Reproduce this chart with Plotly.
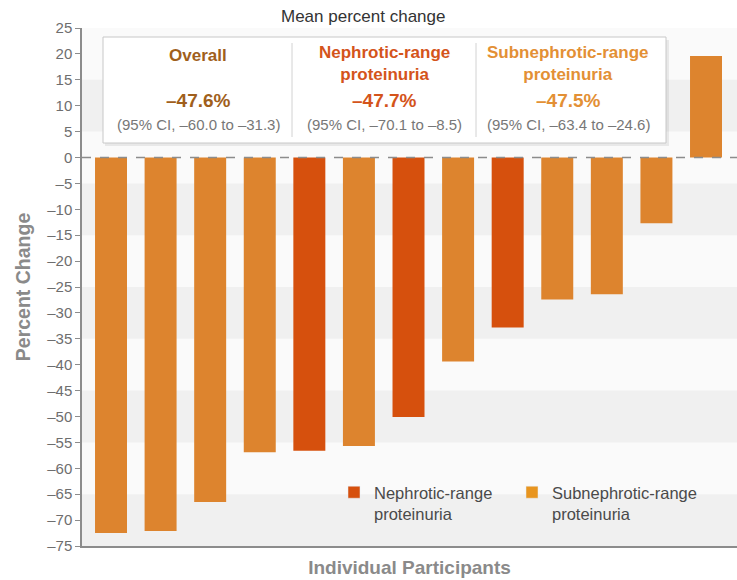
import plotly.graph_objects as go

# Per-participant change in proteinuria
participants = list(range(1, 14))
pct_change = [-72.5, -72.1, -66.5, -56.9, -56.6, -55.7, -50.1,
              -39.4, -32.8, -27.4, -26.4, -12.7, 19.6]
proteinuria = ["Sub", "Sub", "Sub", "Sub", "Neph", "Sub", "Neph",
               "Sub", "Neph", "Sub", "Sub", "Sub", "Sub"]

# Summary panel: mean percent change with 95% CI
summary_labels = ["Overall", "Nephrotic-range<br>proteinuria",
                  "Subnephrotic-range<br>proteinuria"]
summary_means = [-47.6, -47.7, -47.5]
summary_ci_low = [-60.0, -70.1, -63.4]
summary_ci_high = [-31.3, -8.5, -24.6]

legend_labels = ["Nephrotic-range<br>proteinuria",
                 "Subnephrotic-range<br>proteinuria"]

y_ticks = [25, 20, 15, 10, 5, 0, -5, -10, -15, -20, -25, -30, -35,
           -40, -45, -50, -55, -60, -65, -70, -75]
shaded_bands = [(5, 15), (-15, -5), (-35, -25), (-55, -45), (-75, -65)]

NEPH = "#d6500d"
SUB = "#dd842e"
NEPH_KEY = "#d6500d"
SUB_KEY = "#e8951f"
AXIS = "#8c8c8c"
FONT = "Liberation Sans, Arial, sans-serif"
BAR_WIDTH = 0.645

W, H = 737, 580
L, R, T, B = 82, 0, 28, 34
PW, PH = W - L - R, H - T - B


def px(x):
    return (x - L) / PW


def py(y):
    return (H - B - y) / PH


def dash(v):
    return f"{v:.1f}".replace("-", "\u2013")


def label(text, x, y, size, color, weight=400):
    return dict(text=text, xref="paper", yref="paper", x=px(x), y=py(y),
                xanchor="center", yanchor="middle", showarrow=False,
                font=dict(family=FONT, size=size, color=color, weight=weight))


def legend_box(x):
    return dict(x=px(x), y=py(475), xanchor="left", yanchor="top",
                valign="top", bgcolor="rgba(0,0,0,0)",
                font=dict(family=FONT, size=16.5, color="#4a4a4a"))


fig = go.Figure()

for key, color in (("Neph", NEPH), ("Sub", SUB)):
    xs = [p for p, g in zip(participants, proteinuria) if g == key]
    ys = [v for v, g in zip(pct_change, proteinuria) if g == key]
    fig.add_trace(go.Bar(x=xs, y=ys, width=BAR_WIDTH,
                         marker=dict(color=color, line=dict(width=0)),
                         showlegend=False, hoverinfo="x+y"))

for name, color, leg in zip(legend_labels, (NEPH_KEY, SUB_KEY),
                            ("legend", "legend2")):
    fig.add_trace(go.Bar(x=[None], y=[None], name=name, legend=leg,
                         marker=dict(color=color), showlegend=True))

shapes = []
for lo, hi in shaded_bands:
    shapes.append(dict(type="rect", xref="paper", yref="y", x0=0, x1=1,
                       y0=lo, y1=hi, fillcolor="#f0f0f0", line=dict(width=0),
                       layer="below"))
shapes.append(dict(type="line", xref="paper", yref="y", x0=0, x1=1, y0=0, y1=0,
                   line=dict(color=AXIS, width=1.5, dash="dash"), layer="above"))
# summary box with soft shadow
shapes.append(dict(type="rect", xref="paper", yref="paper",
                   x0=px(105), x1=px(669), y0=py(146), y1=py(40),
                   fillcolor="rgba(0,0,0,0.07)", line=dict(width=0), layer="above"))
shapes.append(dict(type="rect", xref="paper", yref="paper",
                   x0=px(103), x1=px(666), y0=py(143), y1=py(37),
                   fillcolor="white", line=dict(color="#c8c8c8", width=1),
                   layer="above"))
for xd in (292, 476):
    shapes.append(dict(type="line", xref="paper", yref="paper",
                       x0=px(xd), x1=px(xd), y0=py(137), y1=py(43),
                       line=dict(color="#d2d2d2", width=1), layer="above"))

annotations = [label("Mean percent change", 363, 17, 17, "#333333")]
col_x = [198, 384, 568]
col_colors = ["#a05f1c", "#d4541b", "#e39035"]
for cx, lab, m, lo, hi, c in zip(col_x, summary_labels, summary_means,
                                 summary_ci_low, summary_ci_high, col_colors):
    head_y = 55 if "<br>" not in lab else 64
    annotations.append(label(lab, cx, head_y, 17, c, 600))
    annotations.append(label(dash(m) + "%", cx, 100, 19, c, 600))
    annotations.append(label(f"(95% CI, {dash(lo)} to {dash(hi)})",
                             cx, 125, 15, "#777777"))

fig.update_layout(
    width=W, height=H,
    margin=dict(l=L, r=R, t=T, b=B, pad=0),
    paper_bgcolor="white", plot_bgcolor="#fafafa",
    barmode="overlay",
    font=dict(family=FONT),
    shapes=shapes, annotations=annotations,
    legend=legend_box(334),
    legend2=legend_box(512),
    xaxis=dict(range=[0.415, 13.625], showticklabels=False, ticks="",
               showgrid=False, zeroline=False, showline=True,
               linecolor=AXIS, linewidth=1.5,
               title=dict(text="Individual Participants", standoff=14,
                          font=dict(family=FONT, size=19, color="#8a8a8a",
                                    weight=600))),
    yaxis=dict(range=[-75, 25], tickvals=y_ticks,
               ticktext=[str(v).replace("-", "\u2013") for v in y_ticks],
               ticks="outside", ticklen=5, tickcolor=AXIS, tickwidth=1.2,
               showgrid=False, zeroline=False, showline=True,
               linecolor=AXIS, linewidth=1.5,
               tickfont=dict(family=FONT, size=15, color="#6e6e6e"),
               title=dict(text="Percent Change", standoff=11,
                          font=dict(family=FONT, size=19.5, color="#8a8a8a",
                                    weight=600))),
)

fig.write_html("out.html")
